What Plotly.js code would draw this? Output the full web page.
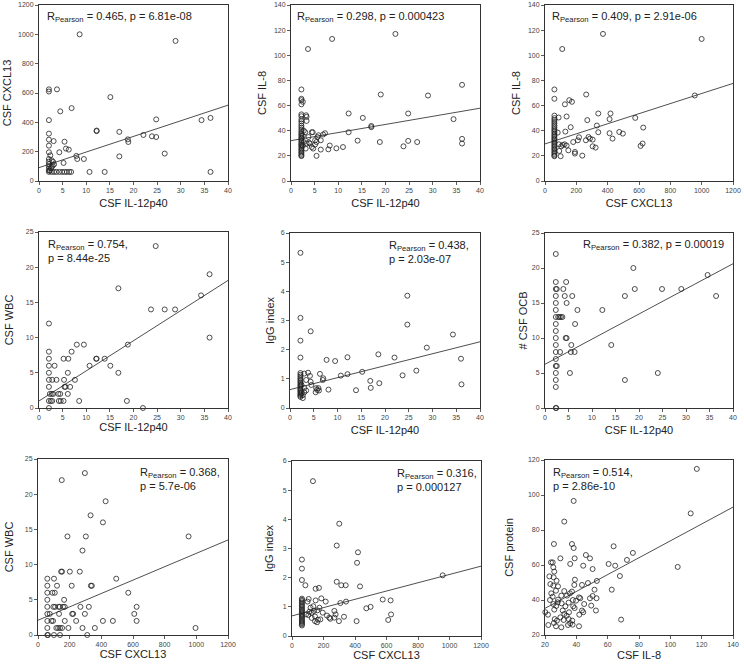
<!DOCTYPE html>
<html>
<head>
<meta charset="utf-8">
<script src="https://cdn.plot.ly/plotly-3.0.1.min.js"></script>
<style>html,body{margin:0;padding:0;background:#fff;}#chart{width:744px;height:666px;}</style>
</head>
<body>
<div id="chart"></div>
<script>
// ---------- DATA ----------
// Panel 1: CSF IL-12p40 vs CSF CXCL13
const il12_cxcl13 = [[8.6,1000],[28.9,955],[2.1,610],[2.1,625],[3.8,625],[15.1,572],[6.9,497],[4.5,475],[2.1,415],[24.8,420],[36.3,430],[34.4,415],[2.1,323],[12.2,340],[12.2,344],[17.0,335],[2.1,282],[3.1,272],[5.4,268],[2.1,241],[18.8,284],[18.9,266],[22.1,314],[23.9,305],[24.8,300],[5.7,221],[6.3,214],[26.6,187],[4.3,196],[2.1,196],[17.0,168],[7.9,171],[2.4,175],[8.1,150],[9.5,150],[5.2,123],[3.2,114],[2.7,141],[2.7,96],[2.1,150],[2.1,132],[2.1,115],[2.1,100],[2.1,85],[2.1,72],[2.5,88],[2.9,105],[2.1,62],[2.7,62],[3.2,62],[3.7,62],[4.3,62],[4.9,62],[5.4,62],[5.9,62],[6.4,62],[6.8,62],[10.7,62],[13.9,62],[36.3,62],[2.3,70],[3.0,130]];
// Panel 2: CSF IL-12p40 vs CSF IL-8
const il12_il8 = [[8.7,113],[22.1,117],[3.6,105],[36.2,76.5],[2.2,72.8],[2.2,65.4],[2.2,64.3],[2.5,63],[19.0,68.8],[29.0,68],[2.2,61],[3.2,52.3],[3.3,51],[12.2,53.7],[15.2,50.2],[24.8,53.7],[34.4,49.2],[3.3,47.8],[17.0,43.8],[17.0,42.8],[12.2,38.8],[7.2,38],[6.8,37],[5.8,36.4],[5.6,35],[4.6,38.8],[4.4,38.8],[3.0,38.8],[3.7,35],[3.8,30.5],[4.0,29.8],[5.1,32.4],[5.4,31],[6.3,32.4],[8.2,28.2],[4.4,27],[3.3,29.8],[3.1,25.8],[4.7,25.8],[6.3,25],[7.9,25.2],[9.6,26],[11.0,27],[14.1,32.1],[18.8,31],[23.8,27.6],[24.8,31.9],[26.7,31],[36.2,33.5],[36.2,29.8],[5.4,20],[5.1,29],[2.2,53],[2.2,51.5],[2.2,49],[2.2,47.5],[2.2,45.8],[2.2,44],[2.2,42.5],[2.2,41],[2.2,39.6],[2.2,38.2],[2.2,37],[2.2,35.8],[2.2,34.5],[2.2,33.6],[2.2,32.4],[2.2,31.2],[2.2,30.1],[2.2,29],[2.2,28.2],[2.2,27.1],[2.2,26],[2.2,24.8],[2.2,23.9],[2.2,22.7],[2.2,21.6],[2.2,20.4],[2.2,19.8],[2.5,36],[2.5,28],[2.7,40],[2.7,31]];
// Panel 3: CSF CXCL13 vs CSF IL-8
const cxcl13_il8 = [[1000,113],[370,117],[110,105],[60,72.8],[60,65.4],[263,68.8],[956,68],[155,64.3],[172,63],[127,61],[87,50.5],[138,51.3],[270,48.4],[340,53.7],[418,53.7],[412,49.2],[576,50.2],[331,44.1],[164,42.8],[627,42.5],[81,38.5],[130,39.3],[340,38.8],[412,38],[474,39],[497,37.7],[217,34.8],[278,35],[287,33.7],[431,33.7],[304,32.9],[261,32.4],[210,32.4],[180,31],[89,29.2],[113,28.7],[125,29.2],[138,28.2],[104,27.6],[304,27.6],[323,26.6],[610,27.9],[623,29.8],[149,24.4],[191,23.1],[191,21.8],[91,23.9],[100,19.7],[238,20.2],[60,52],[60,50],[60,48.5],[60,47],[60,45.5],[60,44],[60,42.6],[60,41.2],[60,40],[60,38.8],[60,37.5],[60,36.3],[60,35.2],[60,34],[60,33],[60,31.8],[60,30.6],[60,29.5],[60,28.4],[60,27.2],[60,26.1],[60,25],[60,23.8],[60,22.6],[60,21.5],[60,20.3],[60,19.7]];
// Panel 4: CSF IL-12p40 vs CSF WBC
const il12_wbc = [[24.7,23],[36.1,19],[16.8,17],[34.3,16],[23.7,14],[26.6,14],[28.8,14],[2.1,12],[36.1,10],[8.0,9],[9.5,9],[18.8,9],[2.1,8],[6.9,8],[2.1,7],[5.2,7],[6.2,7],[12.1,7],[12.2,7],[13.9,7],[2.1,6],[3.3,6],[10.7,6],[15.1,6],[2.1,5],[6.1,5],[16.8,5],[2.1,4],[2.8,4],[3.7,4],[5.3,4],[7.6,4],[2.1,3],[5.4,3],[5.6,3],[6.6,3],[2.3,2],[2.7,2],[3.0,2],[4.1,2],[4.5,2],[6.1,2],[2.1,1],[2.5,1],[2.8,1],[4.2,1],[4.6,1],[5.2,1],[8.5,1],[18.6,1],[2.1,0],[22.0,0]];
// Panel 5: CSF IL-12p40 vs IgG index
const il12_igg = [[2.2,5.32],[24.7,3.85],[2.2,3.09],[24.7,2.86],[4.35,2.63],[34.3,2.52],[2.2,2.31],[28.8,2.07],[2.2,1.73],[12.1,1.74],[22.0,1.73],[36.0,1.69],[18.6,1.84],[7.7,1.65],[9.5,1.61],[15.2,1.24],[3.8,1.21],[4.2,1.10],[6.3,1.17],[12.1,1.16],[10.7,1.11],[23.7,1.12],[26.6,1.28],[7.0,1.02],[6.9,0.96],[16.9,0.93],[18.8,0.85],[4.35,0.90],[4.5,0.79],[36.1,0.81],[3.4,0.96],[17.0,0.69],[8.1,0.63],[13.9,0.61],[5.5,0.68],[5.7,0.62],[6.0,0.68],[5.4,0.54],[6.1,0.60],[3.0,0.69],[3.4,0.60],[2.7,0.44],[3.0,0.54],[2.7,0.34],[3.0,1.18],[2.2,1.2],[2.2,1.14],[2.2,1.08],[2.2,1.02],[2.2,0.97],[2.2,0.92],[2.2,0.87],[2.2,0.82],[2.2,0.77],[2.2,0.73],[2.2,0.68],[2.2,0.63],[2.2,0.59],[2.2,0.55],[2.2,0.5],[2.2,0.46],[2.2,0.42],[2.2,0.38],[2.4,0.8],[2.4,0.52]];
// Panel 6: CSF IL-12p40 vs # CSF OCB
const il12_ocb = [[2.3,22],[18.8,20],[34.6,19],[2.3,18],[4.5,18],[2.3,17],[2.5,17],[3.9,17],[19.1,17],[24.9,17],[29.0,17],[2.3,16],[4.2,16],[5.8,16],[17.0,16],[36.4,16],[2.3,15],[4.6,15],[2.3,14],[6.9,14],[12.2,14],[2.3,13],[2.8,13],[3.1,13],[3.4,13],[3.7,13],[2.3,12],[6.4,12],[2.3,11],[2.3,10],[4.4,10],[4.6,10],[2.3,9],[5.6,9],[14.1,9],[2.3,8],[3.2,8],[5.5,8],[6.3,8],[2.3,7],[2.3,6],[2.5,6],[2.3,5],[5.3,5],[24.0,5],[2.3,4],[17.0,4],[2.3,3],[2.3,0],[2.4,0]];
// Panel 7: CSF CXCL13 vs CSF WBC
const cxcl13_wbc = [[296,23],[150,22],[427,19],[332,17],[410,16],[186,14],[302,14],[951,14],[281,12],[146,9],[152,9],[201,9],[264,9],[494,8],[59,8],[101,8],[59,7],[120,7],[213,7],[334,7],[340,7],[59,6],[91,6],[106,6],[570,6],[59,5],[165,5],[59,4],[97,4],[108,4],[131,4],[137,4],[158,4],[169,4],[268,4],[321,4],[623,4],[59,3],[74,3],[133,3],[216,3],[222,3],[296,3],[608,3],[59,2],[85,2],[95,2],[169,2],[241,2],[410,2],[473,2],[623,2],[59,1],[116,1],[127,1],[139,1],[152,1],[192,1],[281,1],[359,1],[995,1],[59,0],[63,0],[101,0],[139,0],[311,0]];
// Panel 8: CSF CXCL13 vs IgG index
const cxcl13_igg = [[133,5.31],[300,3.85],[284,3.1],[419,2.87],[63,2.62],[413,2.51],[63,2.31],[957,2.08],[63,1.92],[85,1.74],[284,1.86],[313,1.74],[341,1.74],[432,1.70],[150,1.62],[171,1.65],[106,1.27],[186,1.29],[214,1.18],[150,1.22],[576,1.25],[626,1.22],[343,1.18],[307,1.13],[99,1.18],[118,0.97],[135,1.02],[174,0.97],[499,1.0],[472,0.95],[269,0.86],[110,0.83],[125,0.80],[140,0.86],[161,0.88],[195,0.80],[89,0.74],[104,0.72],[629,0.74],[330,0.66],[277,0.74],[222,0.70],[146,0.67],[125,0.62],[243,0.59],[237,0.63],[165,0.56],[180,0.57],[269,0.63],[298,0.51],[146,0.51],[159,0.47],[410,0.51],[611,0.55],[63,1.28],[63,1.24],[63,1.2],[63,1.15],[63,1.1],[63,1.05],[63,1.0],[63,0.95],[63,0.9],[63,0.86],[63,0.82],[63,0.77],[63,0.73],[63,0.69],[63,0.65],[63,0.6],[63,0.56],[63,0.52],[63,0.48],[63,0.44],[63,0.4],[63,0.36]];
// Panel 9: CSF IL-8 vs CSF protein
const il8_protein = [[116.9,114.9],[113,89.5],[38.3,96.6],[32.3,84.8],[25.7,72],[37.2,72],[38.3,69.7],[63.8,70.7],[76.1,66.9],[72.3,62.9],[46.1,65.7],[48.7,63.8],[29.8,63.8],[38.9,63.8],[23.8,61.5],[24.9,61.5],[36.1,60.6],[44.4,59.6],[60.6,60.6],[64.8,59.6],[104.7,58.9],[25.3,58.7],[50.4,57.7],[25.9,56.2],[22.8,53.5],[25.5,53],[67.8,53.7],[53.1,50.9],[47.4,49.7],[39.1,51.6],[27.4,51],[23.4,49.1],[25.3,48.2],[28.3,47.8],[38.7,48.6],[43.6,48.6],[51.6,45.9],[62.6,45.9],[24.0,43.8],[27,45.3],[32.3,45.1],[37.2,44.8],[35.9,43.8],[24.9,41.9],[30.4,42.5],[34,42.5],[41.7,41.5],[42.5,41],[48.7,41],[52.9,41],[23.2,40],[28.3,40.2],[37.8,40],[39.8,39.6],[28.1,38.7],[30.6,38.1],[35.1,38.5],[50.4,42.3],[25.3,37.7],[27.2,36.6],[33,36.4],[38,36.4],[38.9,35.4],[45,37.7],[49.5,36.8],[43.6,34],[52.5,34],[44.4,33],[31.3,34],[32.3,32],[25.9,34.5],[20.2,33],[21.9,31.6],[35.3,33],[41.9,31.6],[33.8,31],[29.8,30.1],[26.2,29.1],[27.6,28.2],[31.9,28.6],[35.1,29.1],[37.4,28.2],[68.6,28.8],[22.1,25.7],[27,25],[30.4,24.4],[34.7,25.7],[37.6,25.9],[41.7,25],[36.1,26.7],[25.7,26.9]];

const panelData = [il12_cxcl13, il12_il8, cxcl13_il8, il12_wbc, il12_igg, il12_ocb, cxcl13_wbc, cxcl13_igg, il8_protein];
const xTitles = ["CSF IL-12p40","CSF IL-12p40","CSF CXCL13","CSF IL-12p40","CSF IL-12p40","CSF IL-12p40","CSF CXCL13","CSF CXCL13","CSF IL-8"];
const yTitles = ["CSF CXCL13","CSF IL-8","CSF IL-8","CSF WBC","IgG index","# CSF OCB","CSF WBC","IgG index","CSF protein"];
const rValues = ["0.465","0.298","0.409","0.754","0.438","0.382","0.368","0.316","0.514"];
const pValues = ["6.81e-08","0.000423","2.91e-06","8.44e-25","2.03e-07","0.00019","5.7e-06","0.000127","2.86e-10"];
const twoLineStat = [false,false,false,true,true,false,true,true,true];
// regression lines (intercept, slope)
const fitIntercepts = [91, 32.1, 29.5, 1.0, 0.63, 6.25, 2.1, 0.69, 25.6];
const fitSlopes = [10.65, 0.645, 0.0401, 0.428, 0.041, 0.359, 0.0095, 0.00142, 0.482];
// axis ranges and tick steps
const xRanges = [[0,40],[0,40],[0,1200],[0,40],[0,40],[0,40],[0,1200],[0,1200],[20,140]];
const yRanges = [[0,1200],[0,140],[0,140],[0,25],[0,6],[0,25],[0,25],[0,6],[20,120]];
const xSteps = [5,5,200,5,5,5,200,200,20];
const ySteps = [200,20,20,5,1,5,5,1,20];

// ---------- LAYOUT (pixel boxes of each plot area) ----------
const W = 744, H = 666;
const boxes = [ // [left, right, top, bottom] px
  [39,228,5,181],[291,480,5,181],[545,733,5,181],
  [39,228,232,408],[290,480,233,408],[545,733,233,408],
  [38,228,459,635],[292,481,461,636],[545,733,460,635]
];
const xStandoff = [5,5,5,0,5,5,0,0,3];
const yStandoff = [3.5,4.5,4.2,9,3.7,1.5,8,6.4,12];
// stat annotation placement [x frac, y frac, xanchor]
const statPos = [[0.03,0.985,'left'],[0.02,0.985,'left'],[0.027,0.985,'left'],[0.035,0.975,'left'],[0.51,0.975,'left'],[0.963,0.985,'right'],[0.526,0.97,'left'],[0.545,0.978,'left'],[0.032,0.978,'left']];

const font = "Liberation Sans, Arial, Helvetica, sans-serif";
const ink = "#222";
const traces = [];
const layout = {
  width: W, height: H,
  margin: {l:0, r:0, t:0, b:0},
  paper_bgcolor: "#fff", plot_bgcolor: "#fff",
  showlegend: false,
  font: {family: font, color: ink},
  annotations: []
};

panelData.forEach((pts, i) => {
  const n = i + 1;
  const xa = n === 1 ? "x" : "x" + n;
  const ya = n === 1 ? "y" : "y" + n;
  traces.push({
    type: "scatter", mode: "markers",
    x: pts.map(p => p[0]), y: pts.map(p => p[1]),
    xaxis: xa, yaxis: ya, cliponaxis: false,
    marker: {symbol: "circle-open", size: 5, color: ink, line: {width: 0.8, color: ink}},
    hoverinfo: "x+y"
  });
  const xr = xRanges[i];
  traces.push({
    type: "scatter", mode: "lines",
    x: [xr[0], xr[1]],
    y: [fitIntercepts[i] + fitSlopes[i]*xr[0], fitIntercepts[i] + fitSlopes[i]*xr[1]],
    xaxis: xa, yaxis: ya,
    line: {color: ink, width: 0.8},
    hoverinfo: "skip"
  });
  const b = boxes[i];
  const axCommon = {
    showgrid: false, zeroline: false, showline: true, mirror: true,
    linecolor: "#333", linewidth: 1,
    ticks: "outside", ticklen: 3, tickwidth: 0.8, tickcolor: "#333",
    tickfont: {size: 7, color: "#444", family: font},
    automargin: false, fixedrange: true
  };
  layout["xaxis" + (n === 1 ? "" : n)] = Object.assign({}, axCommon, {
    anchor: ya, domain: [b[0]/W, b[1]/W],
    range: xRanges[i], dtick: xSteps[i], tick0: xRanges[i][0],
    title: {text: xTitles[i], font: {size: 11, color: ink, family: font}, standoff: xStandoff[i]}
  });
  layout["yaxis" + (n === 1 ? "" : n)] = Object.assign({}, axCommon, {
    anchor: xa, domain: [1 - b[3]/H, 1 - b[2]/H],
    range: yRanges[i], dtick: ySteps[i], tick0: yRanges[i][0],
    title: {text: yTitles[i], font: {size: 11, color: ink, family: font}, standoff: yStandoff[i]}
  });
  const sep = twoLineStat[i] ? ",<br>" : ", ";
  const sp = statPos[i];
  layout.annotations.push({
    xref: xa + " domain", yref: ya + " domain",
    x: sp[0], y: sp[1], xanchor: sp[2], yanchor: "top", align: "left",
    showarrow: false,
    text: "R<sub>Pearson</sub> = " + rValues[i] + sep + "p = " + pValues[i],
    font: {size: 11, color: ink, family: font}
  });
});

Plotly.newPlot("chart", traces, layout, {displayModeBar: false, staticPlot: true});
</script>
</body>
</html>
